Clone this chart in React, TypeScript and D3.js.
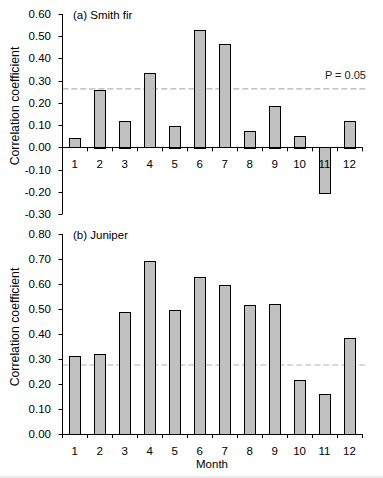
import React from "react";
import * as d3 from "d3";

const months = ["1", "2", "3", "4", "5", "6", "7", "8", "9", "10", "11", "12"];
const smithFir = [0.04, 0.26, 0.12, 0.335, 0.097, 0.53, 0.464, 0.075, 0.187, 0.052, -0.207, 0.12];
const juniper = [0.312, 0.321, 0.487, 0.693, 0.497, 0.628, 0.596, 0.515, 0.519, 0.215, 0.16, 0.385];
const smithTicks = [0.6, 0.5, 0.4, 0.3, 0.2, 0.1, 0, -0.1, -0.2, -0.3];
const juniperTicks = [0.8, 0.7, 0.6, 0.5, 0.4, 0.3, 0.2, 0.1, 0];
const smithThreshold = 0.263;
const juniperThreshold = 0.276;

const FONT = "'Liberation Sans', Arial, sans-serif";

type PanelProps = {
  values: number[];
  ticks: number[];
  domain: [number, number];
  yRange: [number, number];
  label: string;
  threshold: number;
  showP: boolean;
  titleY: number;
};

function Panel({ values, ticks, domain, yRange, label, threshold, showP, titleY }: PanelProps) {
  const x = d3.scaleBand<string>().domain(months).range([62.3, 362]).paddingInner(0.56).paddingOuter(0.28);
  const y = d3.scaleLinear().domain(domain).range(yRange);
  const x0 = 62.3;
  const x1 = 362;
  const step = (x1 - x0) / months.length;
  const zeroY = y(0);
  const bars = values.map((v, i) => ({ m: months[i], v }));
  return (
    <g>
      <line x1={x0} x2={366} y1={y(threshold)} y2={y(threshold)} stroke="#b4b4b4" strokeWidth={1.2} strokeDasharray="6,3" />
      {showP && (
        <text x={366} y={y(threshold) - 10} textAnchor="end" fontSize={11} fontFamily={FONT} fill="#222">P = 0.05</text>
      )}
      {bars.map((b) => (
        <rect
          key={b.m}
          x={Math.round(x(b.m)!) + 0.5}
          y={Math.round(Math.min(y(b.v), zeroY)) + 0.5}
          width={Math.round(x.bandwidth())}
          height={Math.round(Math.abs(y(b.v) - zeroY))}
          fill="#c0c0c0"
          stroke="#000"
          strokeWidth={1}
        />
      ))}
      <line x1={62.5} x2={62.5} y1={y(domain[1])} y2={y(domain[0])} stroke="#000" strokeWidth={1} />
      {ticks.map((t) => (
        <g key={t}>
          <line x1={58.5} x2={62.5} y1={Math.round(y(t)) + 0.5} y2={Math.round(y(t)) + 0.5} stroke="#000" />
          <text x={51} y={y(t)} dy="0.35em" textAnchor="end" fontSize={11.5} fontFamily={FONT} fill="#000">
            {t.toFixed(2)}
          </text>
        </g>
      ))}
      <line x1={x0} x2={x1 + 0.5} y1={Math.round(zeroY) + 0.5} y2={Math.round(zeroY) + 0.5} stroke="#000" strokeWidth={1} />
      {d3.range(months.length + 1).map((i) => (
        <line key={i} x1={Math.round(x0 + i * step) + 0.5} x2={Math.round(x0 + i * step) + 0.5} y1={zeroY} y2={zeroY + 4} stroke="#000" />
      ))}
      {months.map((m) => (
        <text key={m} x={x(m)! + x.bandwidth() / 2} y={zeroY + 20.5} textAnchor="middle" fontSize={11.5} fontFamily={FONT} fill="#000">
          {m}
        </text>
      ))}
      <text x={73} y={yRange[1] + 5} fontSize={11.5} fontFamily={FONT} fill="#000">{label}</text>
      <text
        transform={`translate(15,${titleY}) rotate(-90)`}
        textAnchor="middle"
        dy="0.35em"
        fontSize={12.3}
        fontFamily={FONT}
        fill="#000"
      >
        Correlation coefficient
      </text>
    </g>
  );
}

export default function App() {
  return (
    <svg width={383} height={478} style={{ position: "absolute", left: 0, top: 0, background: "#fff" }}>
      <rect x={0} y={0} width={383} height={478} fill="#fff" />
      <Panel
        values={smithFir}
        ticks={smithTicks}
        domain={[-0.3, 0.6]}
        yRange={[214, 14]}
        label="(a) Smith fir"
        threshold={smithThreshold}
        showP={true}
        titleY={106}
      />
      <Panel
        values={juniper}
        ticks={juniperTicks}
        domain={[0, 0.8]}
        yRange={[434, 234]}
        label="(b) Juniper"
        threshold={juniperThreshold}
        showP={false}
        titleY={327}
      />
      <text x={212} y={468} textAnchor="middle" fontSize={11.5} fontFamily={FONT} fill="#000">Month</text>
      <rect x={0} y={476} width={383} height={2} fill="#ebebeb" />
    </svg>
  );
}
